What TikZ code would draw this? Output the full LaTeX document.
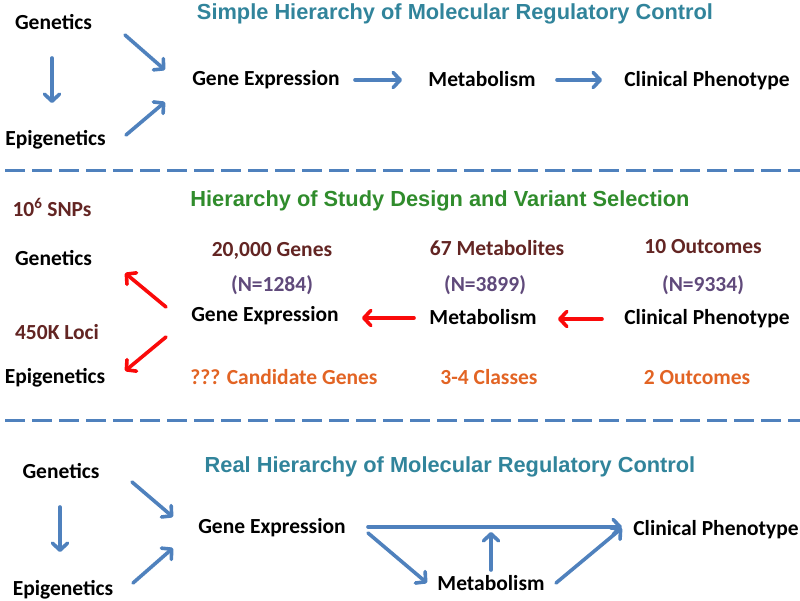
\documentclass[tikz,border=0pt]{standalone}
\usepackage{fontspec}
\setmainfont{Carlito}
\newfontfamily\titlefont{Liberation Sans}
\usetikzlibrary{arrows.meta}
\definecolor{tealT}{RGB}{49,132,155}
\definecolor{greenT}{RGB}{48,140,44}
\definecolor{brownT}{RGB}{99,37,35}
\definecolor{purpT}{RGB}{96,74,123}
\definecolor{orangeT}{RGB}{226,100,36}
\definecolor{arrblue}{RGB}{79,129,189}
\definecolor{arrred}{RGB}{250,10,10}
\tikzset{
  lbl/.style={inner sep=0pt, anchor=base, font=\fontsize{21.5}{26}\selectfont\bfseries},
  ttl/.style={inner sep=0pt, anchor=base, font=\titlefont\fontsize{21.8}{26}\selectfont\bfseries},
  barrow/.style={draw=arrblue, line width=3.6pt, line cap=round, -{Straight Barb[length=7pt,width=15pt,round]}},
  rarrow/.style={draw=arrred, line width=3.6pt, line cap=round, -{Straight Barb[length=7pt,width=15pt,round]}},
  sep/.style={draw=arrblue, line width=3pt, dash pattern=on 20pt off 7pt, dash phase=22pt}
}
\begin{document}
\begin{tikzpicture}[x=1pt,y=-1pt]
\useasboundingbox (0,0) rectangle (800,601);
% ---------- top ----------
\node[ttl, text=tealT] (t1) at (455,19.5) {Simple Hierarchy of Molecular Regulatory Control};
\node[lbl] (gen1) at (53.5,30) {Genetics};
\node[lbl] (epi1) at (55.5,146) {Epigenetics};
\node[lbl] (ge1) at (266,86) {Gene Expression};
\node[lbl] (met1) at (482,87) {Metabolism};
\node[lbl] (clin1) at (707,87) {Clinical Phenotype};
\draw[barrow] ([shift={(-1.5,28)}]gen1.base) -- ([shift={(-3.5,-43)}]epi1.base);
\draw[barrow] ([shift={(71.5,5)}]gen1.base) -- ([shift={(-101,-16)}]ge1.base);
\draw[barrow] ([shift={(70.5,-11)}]epi1.base) -- ([shift={(-101,16)}]ge1.base);
\draw[barrow] ([shift={(89,-6)}]ge1.base) -- ([shift={(-80,-7)}]met1.base);
\draw[barrow] ([shift={(75,-7)}]met1.base) -- ([shift={(-105,-7)}]clin1.base);
% separator
\coordinate (s1a) at (0,171);
\coordinate (s1b) at (800,171);
\draw[sep] (s1a) -- (s1b);
% ---------- middle ----------
\node[ttl, text=greenT] (t2) at (440,207) {Hierarchy of Study Design and Variant Selection};
\node[lbl, text=brownT] (snp) at (52,216.5) {10\textsuperscript{6} SNPs};
\node[lbl] (gen2) at (53.5,266) {Genetics};
\node[lbl, text=brownT] (loci) at (57,340) {450K Loci};
\node[lbl] (epi2) at (55,383) {Epigenetics};
\node[lbl, text=brownT] (genes) at (272,257) {20,000 Genes};
\node[lbl, text=purpT] (n1) at (272,292) {(N=1284)};
\node[lbl] (ge2) at (265,322) {Gene Expression};
\node[lbl, text=orangeT] (cand) at (284,384) {??? Candidate Genes};
\node[lbl, text=brownT] (metab) at (497,256) {67 Metabolites};
\node[lbl, text=purpT] (n2) at (485,292) {(N=3899)};
\node[lbl] (met2) at (483,325) {Metabolism};
\node[lbl, text=orangeT] (cls) at (489,384) {3-4 Classes};
\node[lbl, text=brownT] (outc) at (703,254) {10 Outcomes};
\node[lbl, text=purpT] (n3) at (703,292) {(N=9334)};
\node[lbl] (clin2) at (707,325) {Clinical Phenotype};
\node[lbl, text=orangeT] (out2) at (697,384) {2 Outcomes};
\draw[rarrow] ([shift={(-99,-15)}]ge2.base) -- ([shift={(71.5,7)}]gen2.base);
\draw[rarrow] ([shift={(-99,15)}]ge2.base) -- ([shift={(70,-12)}]epi2.base);
\draw[rarrow] ([shift={(-69,-7)}]met2.base) -- ([shift={(97,-4)}]ge2.base);
\draw[rarrow] ([shift={(-105,-6)}]clin2.base) -- ([shift={(75,-6)}]met2.base);
% separator
\coordinate (s2a) at (0,420);
\coordinate (s2b) at (800,420);
\draw[sep] (s2a) -- (s2b);
% ---------- bottom ----------
\node[ttl, text=tealT] (t3) at (450,472) {Real Hierarchy of Molecular Regulatory Control};
\node[lbl] (gen3) at (61,478) {Genetics};
\node[lbl] (epi3) at (63,595) {Epigenetics};
\node[lbl] (ge3) at (272,533) {Gene Expression};
\node[lbl] (met3) at (491,590) {Metabolism};
\node[lbl] (clin3) at (716,535) {Clinical Phenotype};
\draw[barrow] ([shift={(-1,29)}]gen3.base) -- ([shift={(-3,-43)}]epi3.base);
\draw[barrow] ([shift={(71,4)}]gen3.base) -- ([shift={(-99,-16)}]ge3.base);
\draw[barrow] ([shift={(70,-12)}]epi3.base) -- ([shift={(-99,15)}]ge3.base);
\draw[barrow] ([shift={(96,-6)}]ge3.base) -- ([shift={(-94,-8)}]clin3.base);
\draw[barrow] ([shift={(96,0)}]ge3.base) -- ([shift={(-64,-7)}]met3.base);
\draw[barrow] ([shift={(0,-20)}]met3.base) -- ([shift={(219,-1)}]ge3.base);
\draw[barrow] ([shift={(65,-7)}]met3.base) -- ([shift={(-94,-7)}]clin3.base);
\end{tikzpicture}
\end{document}
